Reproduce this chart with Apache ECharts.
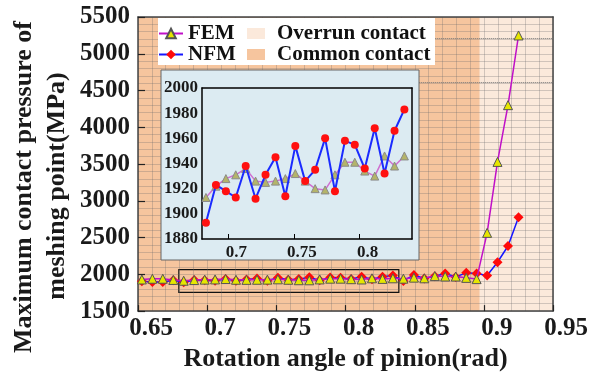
<!DOCTYPE html>
<html>
<head>
<meta charset="utf-8">
<script src="https://cdn.jsdelivr.net/npm/echarts@6/dist/echarts.min.js"></script>
<style>
  html, body { margin: 0; padding: 0; background: #fff; }
  #chart { width: 591px; height: 377px; }
</style>
</head>
<body>
<div id="chart"></div>
<script>
// Rotation angle of the pinion (rad) at each computed meshing position
const angle = [
  0.6528, 0.6604, 0.6679, 0.6755, 0.6830, 0.6906, 0.6982, 0.7057, 0.7133, 0.7208,
  0.7284, 0.7360, 0.7435, 0.7511, 0.7586, 0.7662, 0.7738, 0.7813, 0.7889, 0.7964,
  0.8040, 0.8116, 0.8191, 0.8267, 0.8342, 0.8418, 0.8494, 0.8569, 0.8645, 0.8720,
  0.8796, 0.8872, 0.8947, 0.9023, 0.9098, 0.9174, 0.9250
];

// Maximum contact pressure at the meshing point (MPa), finite element model
const femPressure = [
  1930, 1940, 1940, 1924, 1913, 1922, 1928, 1931, 1936, 1926,
  1925, 1926, 1928, 1932, 1926, 1920, 1919, 1931, 1941, 1941,
  1934, 1930, 1946, 1938, 1946, 1941, 1955, 1946, 1976, 1970,
  1970, 1952, 1935, 2564, 3529, 4301, 5249
];

// Maximum contact pressure at the meshing point (MPa), numerical model
const nfmPressure = [
  1905, 1897, 1897, 1921, 1893, 1923, 1918, 1913, 1938, 1912,
  1931, 1945, 1914, 1954, 1926, 1935, 1960, 1918, 1958, 1955,
  1936, 1968, 1932, 1966, 1983, 1910, 1992, 1945, 1975, 2012,
  1965, 2020, 2012, 1985, 2164, 2385, 2775
];

// Contact regimes along the rotation angle
const commonContact = [0.65, 0.897];
const overrunContact = [0.897, 0.95];

// Reference levels drawn as dotted lines
const refLevels = [5205, 4610];

// Window that is magnified in the detail plot
const detailFirst = 4;
const detailLast = 24;
const detailBox = { x: [0.6795, 0.8385], y: [1755, 2065] };
const detailXTicks = [0.7, 0.75, 0.8];

const serif = "'Liberation Serif', 'Times New Roman', serif";
const ink = '#1a1a1a';
const gridLine = { color: 'rgba(110,110,110,0.30)', width: 1 };

const pairs = (ys, from, to) => {
  const out = [];
  for (let i = from; i <= to; i++) out.push([angle[i], ys[i]]);
  return out;
};
const fmt = v => String(+v.toFixed(3));

const chart = echarts.init(document.getElementById('chart'), null, { renderer: 'canvas' });

const mainLabel = { fontFamily: serif, fontWeight: 'bold', fontSize: 25, color: ink };
const detailLabel = { fontFamily: serif, fontWeight: 'bold', fontSize: 17, color: ink };

chart.setOption({
  animation: false,
  backgroundColor: '#fff',
  grid: [
    { left: 138, top: 17, width: 417, height: 297 },
    { left: 202, top: 88, width: 210, height: 151 }
  ],
  xAxis: [
    {
      type: 'value', gridIndex: 0, min: 0.65, max: 0.95, interval: 0.05, z: 2,
      axisLine: { show: true, lineStyle: { color: '#444', width: 1.5 } },
      axisTick: { show: true, inside: true, length: 6, lineStyle: { color: '#222', width: 1.2 } },
      minorTick: { show: false, splitNumber: 5 },
      splitLine: { show: true, lineStyle: gridLine },
      minorSplitLine: { show: true, lineStyle: gridLine },
      axisLabel: Object.assign({ margin: 5, formatter: fmt, padding: [0, 0, 0, 26] }, mainLabel),
      name: 'Rotation angle of pinion(rad)',
      nameLocation: 'middle',
      nameGap: 30,
      nameTextStyle: { fontFamily: serif, fontWeight: 'bold', fontSize: 26, color: ink }
    },
    {
      type: 'value', gridIndex: 0, position: 'top', min: 0.65, max: 0.95, z: 2,
      axisLine: { show: true, lineStyle: { color: '#444', width: 1.5 } },
      axisTick: { show: false }, axisLabel: { show: false }, splitLine: { show: false }
    },
    {
      type: 'value', gridIndex: 1, min: 0.68, max: 0.84, z: 12,
      axisLine: { show: true, lineStyle: { color: '#000', width: 1.5 } },
      axisTick: { show: true, inside: true, length: 5, customValues: detailXTicks, lineStyle: { color: '#000' } },
      axisLabel: Object.assign({ margin: 5, customValues: detailXTicks, formatter: fmt, padding: [0, 0, 0, 16] }, detailLabel),
      splitLine: { show: false }
    },
    {
      type: 'value', gridIndex: 1, position: 'top', min: 0.68, max: 0.84, z: 12,
      axisLine: { show: true, lineStyle: { color: '#000', width: 1.5 } },
      axisTick: { show: false }, axisLabel: { show: false }, splitLine: { show: false }
    }
  ],
  yAxis: [
    {
      type: 'value', gridIndex: 0, min: 1500, max: 5500, interval: 500, z: 2,
      axisLine: { show: true, lineStyle: { color: '#444', width: 1.5 } },
      axisTick: { show: true, inside: true, length: 7, lineStyle: { color: '#222', width: 1.2 } },
      minorTick: { show: false, splitNumber: 5 },
      splitLine: { show: true, lineStyle: gridLine },
      minorSplitLine: { show: true, lineStyle: gridLine },
      axisLabel: Object.assign({ margin: 8, formatter: v => String(v) }, mainLabel)
    },
    {
      type: 'value', gridIndex: 0, position: 'right', min: 1500, max: 5500, z: 2,
      axisLine: { show: true, lineStyle: { color: '#444', width: 1.5 } },
      axisTick: { show: false }, axisLabel: { show: false }, splitLine: { show: false }
    },
    {
      type: 'value', gridIndex: 1, min: 1880, max: 2000, interval: 20, z: 12,
      axisLine: { show: true, lineStyle: { color: '#000', width: 1.5 } },
      axisTick: { show: false },
      axisLabel: Object.assign({ margin: 4, formatter: v => String(v) }, detailLabel),
      splitLine: { show: false }
    },
    {
      type: 'value', gridIndex: 1, position: 'right', min: 1880, max: 2000, z: 12,
      axisLine: { show: true, lineStyle: { color: '#000', width: 1.5 } },
      axisTick: { show: false }, axisLabel: { show: false }, splitLine: { show: false }
    }
  ],
  legend: [
    {
      data: ['FEM', 'NFM'], orient: 'vertical', left: 158, top: 23, padding: 0,
      itemWidth: 24, itemHeight: 12, itemGap: 0, selectedMode: false, z: 20,
      textStyle: { fontFamily: serif, fontWeight: 'bold', fontSize: 21, lineHeight: 20, color: '#111' }
    },
    {
      data: [{ name: 'Overrun contact', icon: 'rect' }, { name: 'Common contact', icon: 'rect' }],
      orient: 'vertical', left: 247, top: 23, padding: 0,
      itemWidth: 18, itemHeight: 11, itemGap: 0, selectedMode: false, z: 20,
      textStyle: { fontFamily: serif, fontWeight: 'bold', fontSize: 21, lineHeight: 20, color: '#111', padding: [0, 0, 0, 7] }
    }
  ],
  graphic: [
    { type: 'rect', z: 10, shape: { x: 158, y: 18, width: 277, height: 47 }, style: { fill: '#fff' } },
    { type: 'rect', z: 10, shape: { x: 161, y: 70, width: 258, height: 190 }, style: { fill: '#dcebf2', stroke: '#666', lineWidth: 1 } },
    {
      type: 'text', z: 20, x: 24, y: 187, rotation: Math.PI / 2,
      style: { text: 'Maximum contact pressure of', fontFamily: serif, fontWeight: 'bold', fontSize: 26, fill: ink, align: 'center', verticalAlign: 'middle' }
    },
    {
      type: 'text', z: 20, x: 57, y: 186, rotation: Math.PI / 2,
      style: { text: 'meshing point(MPa)', fontFamily: serif, fontWeight: 'bold', fontSize: 26, fill: ink, align: 'center', verticalAlign: 'middle' }
    }
  ],
  series: [
    {
      name: 'Common contact', type: 'line', xAxisIndex: 0, yAxisIndex: 0, data: [], z: 1,
      itemStyle: { color: '#f6c59e' }, lineStyle: { color: '#f6c59e' },
      markArea: { silent: true, itemStyle: { color: '#f6c59e' }, data: [[{ xAxis: commonContact[0] }, { xAxis: commonContact[1] }]] }
    },
    {
      name: 'Overrun contact', type: 'line', xAxisIndex: 0, yAxisIndex: 0, data: [], z: 1,
      itemStyle: { color: '#fbe9db' }, lineStyle: { color: '#fbe9db' },
      markArea: { silent: true, itemStyle: { color: '#fbe9db' }, data: [[{ xAxis: overrunContact[0] }, { xAxis: overrunContact[1] }]] }
    },
    {
      name: 'NFM', type: 'line', xAxisIndex: 0, yAxisIndex: 0, z: 4,
      data: pairs(nfmPressure, 0, angle.length - 1),
      symbol: 'diamond', symbolSize: 10,
      itemStyle: { color: '#ff0a0a' },
      lineStyle: { color: '#1616ff', width: 1.5 }
    },
    {
      name: 'FEM', type: 'line', xAxisIndex: 0, yAxisIndex: 0, z: 5,
      data: pairs(femPressure, 0, angle.length - 1),
      symbol: 'triangle', symbolSize: 9,
      itemStyle: { color: '#e6e600', borderColor: '#555', borderWidth: 1 },
      lineStyle: { color: '#c010c8', width: 1.5 },
      markLine: {
        silent: true, symbol: 'none', label: { show: false },
        lineStyle: { color: '#777', type: 'dotted', width: 1 },
        data: refLevels.map(v => [{ coord: [0.85, v] }, { coord: [0.95, v] }])
      }
    },
    {
      name: 'detail window', type: 'line', xAxisIndex: 0, yAxisIndex: 0, data: [], z: 6,
      markArea: {
        silent: true,
        itemStyle: { color: 'rgba(0,0,0,0)', borderColor: '#111', borderWidth: 1.2 },
        data: [[{ coord: [detailBox.x[0], detailBox.y[0]] }, { coord: [detailBox.x[1], detailBox.y[1]] }]]
      }
    },
    {
      name: 'FEM detail', type: 'line', xAxisIndex: 2, yAxisIndex: 2, z: 13,
      data: pairs(femPressure, detailFirst, detailLast),
      symbol: 'triangle', symbolSize: 8,
      itemStyle: { color: '#b4b46a', borderColor: '#8a8a8a', borderWidth: 1 },
      lineStyle: { color: '#cf6fd0', width: 1.5 }
    },
    {
      name: 'NFM detail', type: 'line', xAxisIndex: 2, yAxisIndex: 2, z: 14,
      data: pairs(nfmPressure, detailFirst, detailLast),
      symbol: 'circle', symbolSize: 8,
      itemStyle: { color: '#ff1010' },
      lineStyle: { color: '#1a2bff', width: 2 }
    }
  ]
});
</script>
</body>
</html>
